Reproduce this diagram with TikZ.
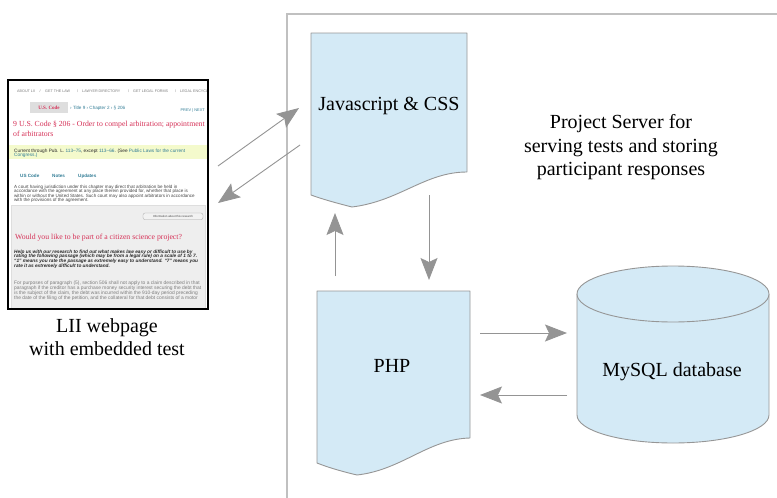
\documentclass[tikz,border=0pt]{standalone}
\usepackage{fontspec}
\setmainfont{Liberation Serif}
\newfontfamily\wsans{Liberation Sans}
\newfontfamily\wserif{Liberation Serif}
\usetikzlibrary{arrows.meta}

\definecolor{docfill}{RGB}{212,234,246}
\definecolor{docline}{RGB}{150,150,150}
\definecolor{arrowgray}{RGB}{148,148,148}
\definecolor{boxgray}{RGB}{192,192,192}
\definecolor{liired}{RGB}{214,50,88}
\definecolor{liiteal}{RGB}{50,125,150}
\definecolor{liiyellow}{RGB}{244,250,204}
\definecolor{liigray}{RGB}{238,238,238}
\definecolor{liitab}{RGB}{222,222,222}
\definecolor{liitext}{RGB}{70,70,70}
\definecolor{liidark}{RGB}{40,40,40}
\definecolor{liilight}{RGB}{125,125,125}

\begin{document}
\begin{tikzpicture}[x=1pt,y=-1pt,
  docshape/.style={fill=docfill,draw=docline,line width=0.9pt,line join=round},
  flow/.style={draw=arrowgray,color=arrowgray,line width=0.9pt,-{Stealth[length=22pt,width=17pt,inset=4pt]}},
  bigtext/.style={font=\fontsize{20}{23}\selectfont,inner sep=0pt,anchor=base},
  navtxt/.style={font=\wsans\fontsize{3.7}{4}\selectfont,text=liilight,inner sep=0pt,anchor=base west},
  bodytxt/.style={font=\wsans\fontsize{4.55}{5}\selectfont,text=liitext,inner sep=0pt,anchor=base west},
  boldtxt/.style={font=\wsans\bfseries\itshape\fontsize{4.75}{5}\selectfont,text=liidark,inner sep=0pt,anchor=base west},
  greytxt/.style={font=\wsans\fontsize{4.9}{5}\selectfont,text=liilight,inner sep=0pt,anchor=base west},
  headtxt/.style={font=\wserif\fontsize{7.75}{9}\selectfont,text=liired,inner sep=0pt,anchor=base west},
  tabtxt/.style={font=\wsans\bfseries\fontsize{4.6}{5}\selectfont,text=liiteal,inner sep=0pt,anchor=base west},
]
\useasboundingbox (0,0) rectangle (777,498);

% project server frame
\draw[boxgray,line width=1.3pt] (800,14) -- (287,14) -- (287,520);

% ---------------- webpage screenshot ----------------
\fill[white] (8,80) rectangle (208,309);
\begin{scope}
\clip (8,80) rectangle (208,309);
\node[navtxt] (nav1) at (17,92) {ABOUT LII};
\node[navtxt] (nav2) at (39.5,92) {/};
\node[navtxt] (nav3) at (45,92) {GET THE LAW};
\node[navtxt] (nav4) at (77,92) {/};
\node[navtxt] (nav5) at (82,92) {LAWYER DIRECTORY};
\node[navtxt] (nav6) at (128,92) {/};
\node[navtxt] (nav7) at (133,92) {GET LEGAL FORMS};
\node[navtxt] (nav8) at (175,92) {/};
\node[navtxt] (nav9) at (180,92) {LEGAL ENCYCLOPEDIA};

\fill[liitab] (30,102) rectangle (68,113);
\node[font=\wserif\bfseries\fontsize{5}{6}\selectfont,text=liired,inner sep=0pt] (tab) at (49,107.8) {U.S. Code};
\node[font=\wsans\fontsize{4.6}{5}\selectfont,text=liiteal,inner sep=0pt,anchor=base west] (crumb) at (70,109.3) {› Title 9 › Chapter 2 › § 206};
\node[font=\wsans\fontsize{3.9}{4}\selectfont,text=liiteal,inner sep=0pt,anchor=base east] (prevnext) at (205,111.5) {PREV | NEXT};

\node[headtxt] (title1) at (13,126) {9 U.S. Code § 206 - Order to compel arbitration; appointment};
\node[headtxt] (title2) at (13,136.5) {of arbitrators};

\fill[liiyellow] (8,145) rectangle (208,158.5);
\node[bodytxt,text=liidark,font=\wsans\fontsize{4.75}{5}\selectfont] (cur1) at (14,152) {Current through Pub. L. \textcolor{liiteal}{113–75}, except \textcolor{liiteal}{113–66}. (See \textcolor{liiteal}{Public Laws for the current}};
\node[bodytxt,text=liiteal,font=\wsans\fontsize{4.75}{5}\selectfont] (cur2) at (14,156.7) {Congress.)};

\node[tabtxt] (tab1) at (20,177.5) {US Code};
\node[tabtxt] (tab2) at (52,177.5) {Notes};
\node[tabtxt] (tab3) at (78,177.5) {Updates};

\node[bodytxt] (p1) at (14,188) {A court having jurisdiction under this chapter may direct that arbitration be held in};
\node[bodytxt] (p2) at (14,192.5) {accordance with the agreement at any place therein provided for, whether that place is};
\node[bodytxt] (p3) at (14,197) {within or without the United States. Such court may also appoint arbitrators in accordance};
\node[bodytxt] (p4) at (14,201.5) {with the provisions of the agreement.};

\filldraw[fill=liigray,draw=liitab,line width=0.4pt] (11,205) rectangle (205,330);
\draw[fill=white!95!black,draw=liilight!70,line width=0.3pt,rounded corners=2pt] (143,213) rectangle (203,219.5);
\node[font=\wsans\fontsize{2.9}{3}\selectfont,text=liitext,inner sep=0pt] (info) at (173,216.3) {Information about this research};

\node[headtxt] (would) at (15,239) {Would you like to be part of a citizen science project?};

\node[boldtxt] (b1) at (14,253) {Help us with our research to find out what makes law easy or difficult to use by};
\node[boldtxt] (b2) at (14,257.7) {rating the following passage (which may be from a legal rule) on a scale of 1 to 7.};
\node[boldtxt] (b3) at (14,262.4) {“1” means you rate the passage as extremely easy to understand. “7” means you};
\node[boldtxt] (b4) at (14,267.1) {rate it as extremely difficult to understand.};

\node[greytxt] (g1) at (14,284) {For purposes of paragraph (5), section 506 shall not apply to a claim described in that};
\node[greytxt] (g2) at (14,289) {paragraph if the creditor has a purchase money security interest securing the debt that};
\node[greytxt] (g3) at (14,294) {is the subject of the claim, the debt was incurred within the 910-day period preceding};
\node[greytxt] (g4) at (14,299) {the date of the filing of the petition, and the collateral for that debt consists of a motor};
\end{scope}
\draw[black,line width=1.3pt] (8,80) rectangle (208,309);

\node[bigtext] (lii1) at (107,332) {LII webpage};
\node[bigtext] (lii2) at (107,355) {with embedded test};

% ---------------- shapes ----------------
\draw[docshape] (311,33) -- (467,33) -- (467,172)
  .. controls (425,172) and (400,201) .. (352,207)
  .. controls (336,203) and (322,199) .. (311,195) -- cycle;
\node[bigtext] (js) at (389,110) {Javascript \& CSS};

\draw[docshape] (317,291) -- (470,291) -- (470,438)
  .. controls (428,439) and (402,470) .. (357,475)
  .. controls (340,471) and (327,467) .. (317,463) -- cycle;
\node[bigtext] (php) at (392,372) {PHP};

\draw[docshape] (577,294) -- (577,415) arc[start angle=180,end angle=360,x radius=96,y radius=-28] -- (769,294);
\draw[docshape] (673,294) ellipse[x radius=96,y radius=28];
\node[bigtext] (mysql) at (672,376) {MySQL database};

\node[bigtext] (ps1) at (621,128) {Project Server for};
\node[bigtext] (ps2) at (621,152) {serving tests and storing};
\node[bigtext] (ps3) at (621,175) {participant responses};

% ---------------- connectors ----------------
\coordinate (w2jA) at (218,166);
\coordinate (w2jB) at (299,108);
\coordinate (j2wA) at (300,145);
\coordinate (j2wB) at (218,203);
\coordinate (p2jA) at (335,276);
\coordinate (p2jB) at (335,213);
\coordinate (j2pA) at (429,195);
\coordinate (j2pB) at (429,280);
\coordinate (p2mA) at (480,333);
\coordinate (p2mB) at (567,333);
\coordinate (m2pA) at (567,395);
\coordinate (m2pB) at (480,395);
\draw[flow] (w2jA) -- (w2jB);
\draw[flow] (j2wA) -- (j2wB);
\draw[flow] (p2jA) -- (p2jB);
\draw[flow] (j2pA) -- (j2pB);
\draw[flow] (p2mA) -- (p2mB);
\draw[flow] (m2pA) -- (m2pB);
\end{tikzpicture}
\end{document}
